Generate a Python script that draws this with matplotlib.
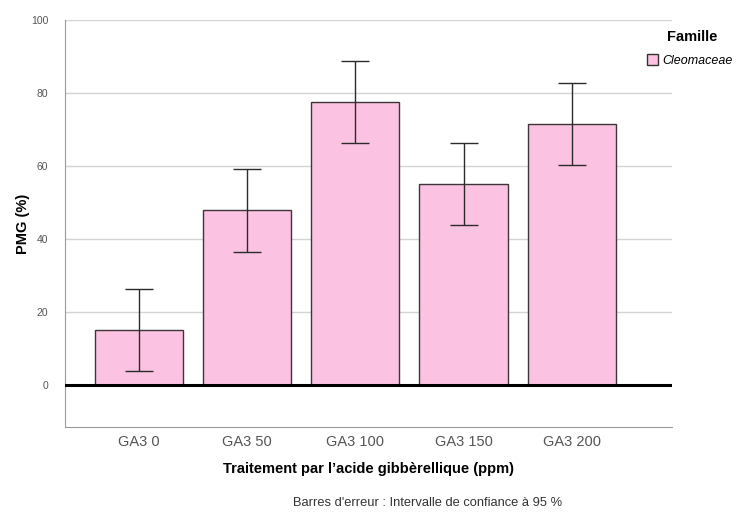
import numpy as np
import matplotlib.pyplot as plt
from matplotlib.patches import Patch

plt.rcParams['font.family'] = ['Liberation Sans', 'DejaVu Sans']

# PMG (%) per GA3 treatment, with 95% CI bounds
treatments = ['GA3 0', 'GA3 50', 'GA3 100', 'GA3 150', 'GA3 200']
pmg = [15.1, 47.9, 77.5, 55.1, 71.5]
ci_low = [3.8, 36.5, 66.3, 43.8, 60.3]
ci_high = [26.3, 59.2, 88.7, 66.3, 82.7]

pmg = np.array(pmg)
yerr = [pmg - np.array(ci_low), np.array(ci_high) - pmg]
x = np.arange(len(treatments))

fig = plt.figure(figsize=(7.38, 5.13), dpi=100)
ax = fig.add_axes([0.088, 0.168, 0.823, 0.793])

ax.set_axisbelow(True)
ax.grid(axis='y', color='#d4d4d4', linewidth=1)
ax.bar(x, pmg, width=0.815, color='#fbc3e1', edgecolor='#3e3538', linewidth=1, zorder=2)
ax.errorbar(x, pmg, yerr=yerr, fmt='none', ecolor='#2b2b2b', elinewidth=1,
            capsize=10, capthick=1, zorder=3)
ax.axhline(0, color='black', linewidth=2.2, zorder=4)

ax.set_xlim(-0.685, 4.93)
ax.set_ylim(-11.5, 100)
ax.set_yticks([0, 20, 40, 60, 80, 100])
ax.set_xticks(x)
ax.set_xticklabels(treatments)
ax.tick_params(axis='both', length=0, colors='#555555', labelsize=7.5)
ax.tick_params(axis='x', labelsize=10.5, pad=6)
ax.tick_params(axis='y', pad=12)

for side in ['top', 'right']:
    ax.spines[side].set_visible(False)
for side in ['left', 'bottom']:
    ax.spines[side].set_color('#9a9a9a')

ax.set_ylabel('PMG (%)', fontsize=10.5, fontweight='bold', labelpad=1)
ax.set_xlabel("Traitement par l\u2019acide gibb\u00e8rellique (ppm)", fontsize=10.5,
              fontweight='bold', labelpad=9)

fig.text(0.938, 0.928, 'Famille', fontsize=10.5, fontweight='bold', ha='center', va='center')
leg = fig.legend(handles=[Patch(facecolor='#fbc3e1', edgecolor='#333333', label='Cleomaceae')],
                 loc='center left', bbox_to_anchor=(0.877, 0.882), frameon=False,
                 handlelength=0.9, handleheight=1.0, handletextpad=0.3,
                 borderpad=0, borderaxespad=0,
                 prop={'style': 'italic', 'size': 9})

fig.text(0.58, 0.008, "Barres d'erreur : Intervalle de confiance \u00e0 95 %",
         fontsize=9.3, ha='center', va='bottom', color='#333333')

fig.savefig('out.png', dpi=100)
